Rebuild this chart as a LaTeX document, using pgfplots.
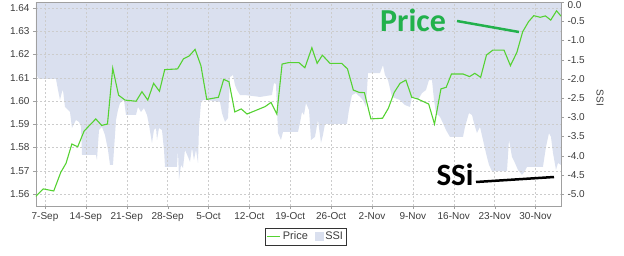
\documentclass[border=0pt]{standalone}
\usepackage{fontspec}
\setmainfont{Liberation Sans}
\newfontfamily\annfont{Carlito}
\usepackage{pgfplots}
\pgfplotsset{compat=1.18}
\definecolor{ssiblue}{RGB}{218,224,239}
\definecolor{priceline}{RGB}{85,210,50}
\definecolor{anngreen}{RGB}{34,177,76}
\definecolor{framegray}{RGB}{160,160,160}
\definecolor{ticktext}{RGB}{60,60,60}
\pgfplotsset{
  shortline legend/.style={legend image code/.code={\draw[##1] (0pt,0pt) -- (13pt,0pt);}},
  ssi legend/.style={legend image code/.code={\fill[ssiblue] (0pt,-4pt) rectangle (8pt,4pt);}},
  common/.style={
    scale only axis, width=525pt, height=203.9pt,
    at={(0pt,0pt)}, anchor=south west,
    xmin=-1.54, xmax=88.36,
    tick align=outside, major tick length=3pt,
    tick style={framegray},
    axis line style={framegray},
    ticklabel style={font=\fontsize{10}{12}\selectfont, text=ticktext},
    /pgf/number format/assume math mode=true,
  }
}
\begin{document}
\begin{tikzpicture}
% ---------- SSI (right axis) ----------
\begin{axis}[common,
  axis x line=none,
  axis y line*=right,
  ymin=-5.31, ymax=0,
  ytick={-5.0,-4.5,-4.0,-3.5,-3.0,-2.5,-2.0,-1.5,-1.0,-0.5},
  yticklabel style={/pgf/number format/fixed, /pgf/number format/fixed zerofill, /pgf/number format/precision=1},
  extra y ticks={0},
  extra y tick labels={0.0},
  extra y tick style={yticklabel style={/tikz/yshift=-2.5pt}},
  ylabel={SSI},
  ylabel style={at={(axis description cs:1.0743,0.53)}, anchor=center, rotate=180,
    font=\fontsize{10}{12}\selectfont, text=ticktext},
]
\addplot[fill=ssiblue, draw=none] coordinates {
(-1.6,0.5) (-1.54,-1.82) (-1.37,-1.92) (-1.03,-2.00) (1.88,-2.00) (2.23,-2.29)
(2.57,-2.55) (2.91,-2.34) (3.08,-2.29) (3.42,-2.73) (3.94,-2.81) (4.28,-2.86)
(4.62,-3.28) (4.97,-3.17) (5.31,-3.07) (5.82,-3.12) (6.16,-3.23) (6.34,-3.98)
(8.73,-3.98) (8.90,-4.11) (9.25,-3.33) (9.76,-3.25) (10.27,-3.46) (10.79,-3.85)
(11.13,-4.24) (11.64,-4.24) (12.16,-3.07) (12.50,-2.81) (12.84,-2.63) (13.53,-2.55)
(13.87,-2.94) (15.58,-2.94) (15.92,-2.73) (16.44,-2.86) (16.95,-2.76) (17.47,-2.94)
(17.81,-3.20) (18.32,-3.67) (18.66,-3.33) (19.01,-3.28) (19.18,-3.59) (19.52,-3.28)
(20.03,-3.33) (20.38,-3.85) (20.55,-4.29) (22.60,-4.29) (22.77,-3.85) (22.95,-4.63)
(23.29,-4.24) (23.63,-4.32) (23.97,-3.85) (24.49,-4.03) (24.83,-4.16) (25.17,-3.80)
(25.51,-4.11) (25.86,-3.85) (26.20,-4.19) (26.37,-3.25) (26.71,-2.63) (27.05,-2.55)
(27.74,-2.55) (29.97,-2.60) (30.31,-2.89) (30.82,-3.12) (31.34,-3.02) (31.68,-1.95)
(32.19,-1.90) (32.53,-2.16) (32.88,-2.29) (33.39,-2.42) (34.25,-2.42) (36.82,-2.47)
(38.87,-2.42) (39.21,-2.11) (39.55,-2.13) (39.90,-3.41) (40.41,-3.59) (40.75,-3.38)
(43.32,-3.38) (43.66,-3.15) (44.01,-2.86) (44.35,-2.94) (44.69,-2.63) (45.21,-2.81)
(45.55,-3.59) (46.23,-3.51) (46.75,-3.07) (47.26,-3.67) (47.60,-3.46) (47.95,-3.17)
(51.71,-3.17) (52.05,-2.81) (52.57,-2.42) (53.25,-2.37) (53.94,-2.47) (54.45,-2.55)
(54.97,-2.73) (55.31,-1.85) (57.36,-1.85) (57.88,-1.64) (58.22,-1.90) (58.73,-2.03)
(59.42,-2.47) (60.79,-2.55) (61.64,-2.68) (62.50,-2.73) (62.84,-2.47) (63.36,-2.47)
(63.87,-2.55) (64.55,-2.37) (65.24,-2.29) (65.75,-2.03) (66.27,-2.03) (66.61,-2.55)
(66.95,-2.89) (67.64,-2.99) (68.15,-3.15) (68.66,-3.33) (69.35,-3.51) (71.58,-3.51)
(71.92,-3.25) (72.60,-2.89) (73.12,-2.94) (73.46,-3.15) (73.97,-3.41) (74.49,-3.25)
(75.00,-3.59) (75.51,-3.93) (76.03,-4.24) (76.54,-4.40) (79.11,-4.40) (79.45,-3.59)
(79.97,-4.03) (80.48,-4.19) (80.99,-4.37) (81.68,-4.50) (82.19,-4.40) (82.53,-4.29)
(85.27,-4.29) (85.79,-3.77) (86.30,-3.41) (86.64,-3.51) (86.99,-3.93) (87.50,-4.37)
(87.84,-4.19) (88.36,-4.24) (88.5,-4.24) (88.5,0.5)
} --cycle;
\end{axis}
% ---------- Price (left axis) ----------
\begin{axis}[common,
  ymin=1.554839, ymax=1.642538,
  xtick pos=bottom, ytick pos=left,
  xtick={0,7,14,21,28,35,42,49,56,63,70,77,84},
  xticklabels={7-Sep,14-Sep,21-Sep,28-Sep,5-Oct,12-Oct,19-Oct,26-Oct,2-Nov,9-Nov,16-Nov,23-Nov,30-Nov},
  ytick={1.56,1.57,1.58,1.59,1.60,1.61,1.62,1.63,1.64},
  yticklabel style={/pgf/number format/fixed, /pgf/number format/fixed zerofill, /pgf/number format/precision=2},
  grid=major,
  grid style={gray!40, dash pattern=on 2pt off 2pt},
  legend style={at={(axis description cs:0.514,-0.1496)}, anchor=center,
    draw=black!80, font=\fontsize{11}{13}\selectfont, text=ticktext,
    legend columns=-1, inner sep=1.5pt,
    /tikz/every even column/.append style={column sep=5pt}},
]
\addplot[priceline, line width=1.1pt, shortline legend] coordinates {
(-1.6,1.5589) (-0.3,1.5622) (1.5,1.5613) (2.7,1.5693) (3.6,1.5732) (4.6,1.5815)
(5.6,1.5803) (6.7,1.5871) (8.7,1.5923) (9.7,1.5895) (10.7,1.5901) (11.6,1.6141)
(12.6,1.6025) (13.7,1.6004) (15.6,1.5999) (16.6,1.6040) (17.6,1.6004) (18.6,1.6076)
(19.6,1.6042) (20.5,1.6135) (22.7,1.6138) (23.7,1.6181) (24.7,1.6194) (25.7,1.6222)
(26.7,1.6152) (27.7,1.6007) (29.7,1.6016) (30.6,1.6093) (31.5,1.6083) (32.5,1.5953)
(33.6,1.5966) (34.6,1.5944) (37.7,1.5976) (38.7,1.5994) (39.7,1.5944) (40.6,1.6159)
(41.7,1.6165) (43.5,1.6165) (44.5,1.6143) (45.7,1.6229) (46.6,1.6162) (47.5,1.6197)
(48.8,1.6162) (50.8,1.6162) (51.8,1.6138) (52.8,1.6047) (53.8,1.6037) (54.7,1.6036)
(55.8,1.5923) (57.8,1.5926) (58.8,1.5969) (59.8,1.6037) (60.8,1.6076) (61.8,1.6090)
(62.8,1.6016) (63.8,1.6009) (65.7,1.5987) (66.7,1.5901) (67.8,1.6052) (68.7,1.6059)
(69.6,1.6116) (71.6,1.6116) (72.7,1.6105) (73.6,1.6119) (74.6,1.6102) (75.6,1.6198)
(76.7,1.6219) (78.6,1.6219) (79.7,1.6152) (80.8,1.6209) (81.8,1.6298) (82.8,1.6341)
(83.7,1.6367) (84.8,1.6360) (85.7,1.6366) (86.6,1.6348) (87.6,1.6388) (88.36,1.6365)
};
\addlegendentry{Price}
\addlegendimage{ssi legend}
\addlegendentry{SSI}
\end{axis}
% ---------- annotations ----------
\node[anchor=base, text=anngreen, font=\annfont\bfseries\fontsize{32}{34}\selectfont, inner sep=0pt] at (377pt,175pt) {Price};
\draw[anngreen, line width=2.5pt] (421pt,185pt) -- (483pt,174pt);
\node[anchor=base, text=black, font=\annfont\bfseries\fontsize{31}{33}\selectfont, inner sep=0pt] at (419pt,21pt) {SSi};
\draw[black, line width=2.5pt] (440pt,24pt) -- (518pt,29pt);
\pgfresetboundingbox
\path (-36pt,-49pt) rectangle (588pt,206pt);
\end{tikzpicture}
\end{document}
